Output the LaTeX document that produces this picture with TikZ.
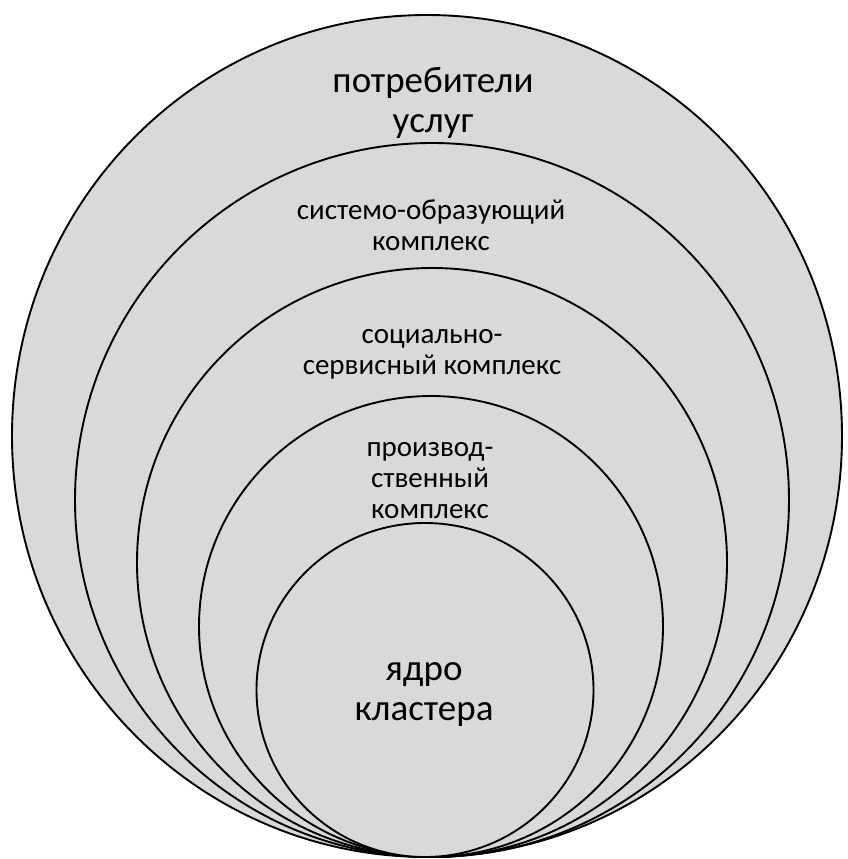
\documentclass[tikz,border=0pt]{standalone}
\usepackage{fontspec}
\setmainfont{Carlito}
\definecolor{ringfill}{HTML}{D9D9D9}
\begin{document}
\begin{tikzpicture}[x=1pt,y=-1pt,
  ring/.style={draw=black,line width=1.9pt,fill=ringfill},
  bigtxt/.style={align=center,anchor=base,font=\fontsize{37}{40}\selectfont},
  midtxt/.style={align=center,anchor=base,font=\fontsize{29}{31}\selectfont}]
\useasboundingbox (0,0) rectangle (848,859);
\fill[white] (0,0) rectangle (848,859);
\draw[ring] (427,436) ellipse [x radius=415,y radius=421];
\draw[ring] (432,500) ellipse [x radius=357,y radius=357];
\draw[ring] (432,562.5) ellipse [x radius=295,y radius=294.5];
\draw[ring] (431,626.5) ellipse [x radius=232,y radius=230.5];
\draw[ring] (425,690) ellipse [x radius=168.5,y radius=167];
\node[bigtxt] (consumers) at (433,132) {потребители\\услуг};
\node[midtxt] (system) at (431,250) {системо-образующий\\комплекс};
\node[midtxt] (social) at (432,374) {социально-\\сервисный комплекс};
\node[midtxt] (prod) at (430,518) {производ-\\ственный\\комплекс};
\node[bigtxt] (core) at (424,720) {ядро\\кластера};
\end{tikzpicture}
\end{document}
